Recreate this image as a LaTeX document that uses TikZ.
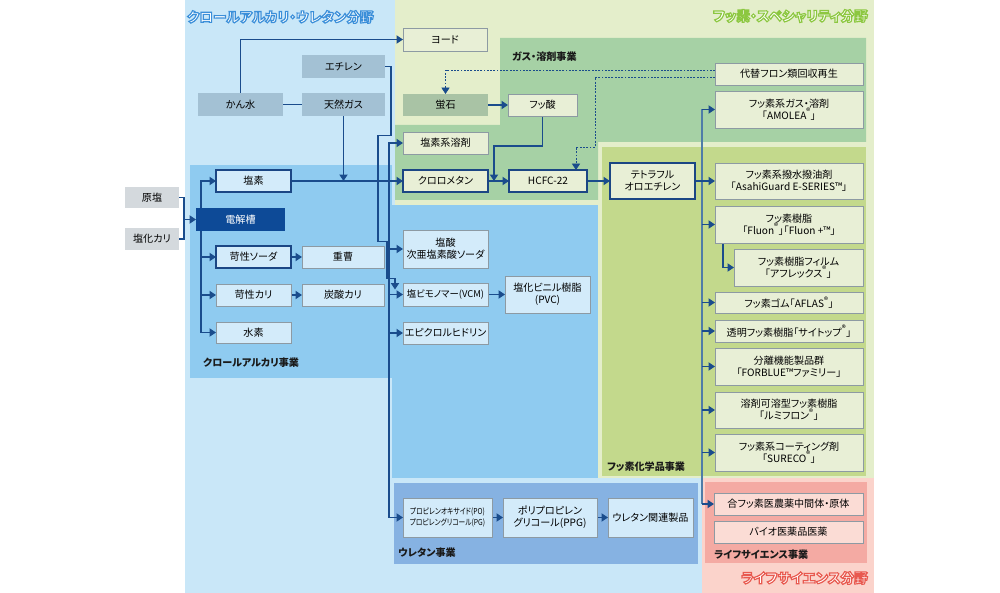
\documentclass[tikz,border=0pt]{standalone}
\usepackage{fontspec}
\setmainfont{Noto Sans CJK JP}[RawFeature=+palt]
\usetikzlibrary{arrows.meta,calc}
\pgfdeclarelayer{bg}\pgfdeclarelayer{edges}
\pgfsetlayers{bg,edges,main}
\definecolor{fBlue}{HTML}{C9E7F8}
\definecolor{bChlor}{HTML}{8FCBF0}
\definecolor{bUre}{HTML}{86B2E2}
\definecolor{fGreen}{HTML}{E4EECB}
\definecolor{bGas}{HTML}{A6D1A5}
\definecolor{bFluo}{HTML}{C3D98C}
\definecolor{fPink}{HTML}{FBD3CB}
\definecolor{bLife}{HTML}{F4AAA3}
\definecolor{gFill}{HTML}{A3C1D4}
\definecolor{sFill}{HTML}{D4D9DD}
\definecolor{eFill}{HTML}{0D4A97}
\definecolor{bFill}{HTML}{D3EBFA}
\definecolor{yFill}{HTML}{E8EFD6}
\definecolor{hFill}{HTML}{A9C3A5}
\definecolor{lFill}{HTML}{FBDCD5}
\definecolor{boxLine}{HTML}{8D9AA3}
\definecolor{keyLine}{HTML}{1B4684}
\definecolor{arrowC}{HTML}{1A4C8C}
\definecolor{vLine}{HTML}{4F7CA8}
\definecolor{labC}{HTML}{1A1A1A}
\newcommand\fs{\fontsize{8.6}{10.2}\selectfont}
\newcommand\regm{\textsuperscript{\fontsize{7}{7}\selectfont ®}}
\newcommand\outl[2]{\special{pdf:literal direct #1 RG 1.0 w 2 Tr}#2\special{pdf:literal direct 0 Tr}}
\newcommand\mk[7]{\node[#1, minimum width={(#5-#3)*0.03cm}, minimum height={(#6-#4)*0.03cm}] (#2) at ({(#3+#5)/2},{(#4+#6)/2}) {#7};}
\tikzset{
  base/.style={inner sep=0pt, outer sep=0pt, align=center, font=\fs, text=black},
  gbox/.style={base, fill=gFill},
  sbox/.style={base, fill=sFill},
  ebox/.style={base, fill=eFill, text=white},
  hbox/.style={base, fill=hFill},
  bbox/.style={base, fill=bFill, draw=boxLine, line width=0.6pt},
  ybox/.style={base, fill=yFill, draw=boxLine, line width=0.6pt},
  lbox/.style={base, fill=lFill, draw=boxLine, line width=0.6pt},
  kbox/.style={base, fill=#1, draw=keyLine, line width=1.6pt},
  smallfont/.style={font=\fontsize{7}{10}\selectfont},
  lab/.style={inner sep=0pt, anchor=west, text=labC, font=\fontsize{8.6}{10}\selectfont\bfseries},
  ttl/.style={inner sep=0pt, text=white, font=\fontsize{11.6}{12}\selectfont\bfseries},
  ln/.style={draw=arrowC, line width=1.1pt},
  ar/.style={ln, -{Triangle[length=5.5pt,width=7pt]}},
  dar/.style={draw=arrowC, line width=0.7pt, dash pattern=on 1.6pt off 1.2pt, -{Triangle[length=5.5pt,width=7pt]}},
  vl/.style={draw=vLine, line width=1pt}
}
\begin{document}
\begin{tikzpicture}[x=0.03cm,y=-0.03cm]
\useasboundingbox (0,0) rectangle (1000,593);
\begin{pgfonlayer}{bg}
\fill[white] (0,0) rectangle (1000,593);
\fill[fBlue] (185,0) rectangle (395,593);
\fill[fBlue] (395,478) rectangle (702,593);
\fill[fGreen] (395,0) rectangle (874,478);
\fill[fPink] (702,478) rectangle (874,593);
\fill[bChlor] (190,165) rectangle (392,378);
\fill[bChlor] (392,205) rectangle (598,478);
\fill[bUre] (394,483) rectangle (698,564);
\fill[bGas] (500,38) -- (866,38) -- (866,142) -- (598,142) -- (598,200) -- (395,200) -- (395,125) -- (500,125) -- cycle;
\fill[bFluo] (602,147) rectangle (866,476);
\fill[bLife] (705,482) rectangle (867,563);
\end{pgfonlayer}
% titles
\node[ttl, anchor=west] (tBlue) at (187,17) {\outl{0.23 0.56 0.85}{クロールアルカリ・ウレタン分野}};
\node[ttl, anchor=east] (tGreen) at (868,16) {\outl{0.55 0.78 0.25}{フッ素・スペシャリティ分野}};
\node[ttl, anchor=east] (tPink) at (868,578) {\outl{0.91 0.35 0.31}{ライフサイエンス分野}};
% labels
\node[lab] (lblChlor) at (203,363) {クロールアルカリ事業};
\node[lab] (lblGas) at (512,57) {ガス・溶剤事業};
\node[lab] (lblFluo) at (607,467) {フッ素化学品事業};
\node[lab] (lblUre) at (398,553) {ウレタン事業};
\node[lab] (lblLife) at (714,555) {ライフサイエンス事業};
% chlor-alkali
\mk{gbox}{ethylene}{302}{55}{385}{78}{エチレン}
\mk{gbox}{kansui}{198}{93}{283}{116}{かん水}
\mk{gbox}{tennen}{302}{93}{385}{116}{天然ガス}
\mk{sbox}{genen}{125}{187}{179}{208}{原塩}
\mk{sbox}{enkakari}{125}{228}{179}{250}{塩化カリ}
\mk{ebox}{denkai}{196}{208}{285}{231}{電解槽}
\mk{kbox=bFill}{enso}{216}{170}{291}{192}{塩素}
\mk{kbox=bFill}{soda}{216}{246}{291}{268}{苛性ソーダ}
\mk{bbox}{jusou}{302}{246}{384}{268}{重曹}
\mk{bbox}{kari}{216}{284}{291}{306}{苛性カリ}
\mk{bbox}{tansan}{302}{284}{384}{306}{炭酸カリ}
\mk{bbox}{suiso}{216}{322}{291}{343}{水素}
% vinyl
\mk{bbox}{jia}{403}{230}{488}{268}{塩酸\\次亜塩素酸ソーダ}
\mk{bbox, font=\fontsize{8}{9}\selectfont}{vcm}{403}{283}{488}{306}{塩ビモノマー(VCM)}
\mk{bbox}{pvc}{505}{276}{590}{313}{塩化ビニル樹脂\\(PVC)}
\mk{bbox}{epi}{403}{322}{488}{344}{エピクロルヒドリン}
% urethane
\mk{bbox, smallfont}{po}{403}{498}{492}{537}{\scalebox{0.82}[1]{プロピレンオキサイド(PO)}\\\scalebox{0.82}[1]{プロピレングリコール(PG)}}
\mk{bbox}{ppg}{503}{498}{597}{537}{ポリプロピレン\\グリコール(PPG)}
\mk{bbox}{uret}{608}{498}{693}{537}{ウレタン関連製品}
% gas / fluorine
\mk{ybox}{yodo}{403}{28}{487}{51}{ヨード}
\mk{hbox}{hotaru}{403}{94}{488}{116}{蛍石}
\mk{ybox}{fussan}{508}{94}{577}{116}{フッ酸}
\mk{ybox}{enkei}{403}{132}{488}{154}{塩素系溶剤}
\mk{kbox=yFill}{chloro}{403}{170}{488}{192}{クロロメタン}
\mk{kbox=yFill}{hcfc}{509}{170}{587}{192}{HCFC-22}
\mk{kbox=yFill}{tfe}{610}{163}{695}{199}{テトラフル\\オロエチレン}
\mk{ybox}{daitai}{715}{63}{863}{85}{代替フロン類回収再生}
\mk{ybox}{amolea}{715}{91}{863}{128}{フッ素系ガス・溶剤\\「AMOLEA\regm」}
\mk{ybox}{asahi}{715}{163}{863}{199}{フッ素系撥水撥油剤\\「AsahiGuard E-SERIES™」}
\mk{ybox}{fluon}{715}{206}{863}{243}{フッ素樹脂\\「Fluon\regm」「Fluon +™」}
\mk{ybox}{film}{734}{249}{863}{286}{フッ素樹脂フィルム\\「アフレックス\regm」}
\mk{ybox}{aflas}{715}{292}{863}{313}{フッ素ゴム「AFLAS\regm」}
\mk{ybox}{cytop}{715}{320}{863}{342}{透明フッ素樹脂「サイトップ\regm」}
\mk{ybox}{forblue}{715}{348}{863}{385}{分離機能製品群\\「FORBLUE™ファミリー」}
\mk{ybox}{lumi}{715}{392}{863}{428}{溶剤可溶型フッ素樹脂\\「ルミフロン\regm」}
\mk{ybox}{sureco}{715}{434}{863}{471}{フッ素系コーティング剤\\「SURECO\regm」}
\mk{lbox}{gan}{714}{493}{863}{515}{合フッ素医農薬中間体・原体}
\mk{lbox}{bio}{714}{521}{863}{543}{バイオ医薬品医薬}
% connectors
\begin{pgfonlayer}{edges}
\draw[ln] (kansui.east) -- (tennen.west);
\draw[ar] (kansui.north) |- (yodo.west);
\draw[ar] (tennen.south) -- (tennen.south |- enso.east);
\draw[ar] (ethylene.east) -- ++(6,0) -- ++(0,69) -- ++(-13,0) -- ++(0,106) -- ++(9,0) -- ++(0,37) -- ++(8,0) -- ($(vcm.west)+(-8,-5)$);
\draw[ar] (enso.east) -- (chloro.west);
\coordinate (cj) at ($(chloro.west)+(-14,0)$);
\draw[ar] (cj) |- (enkei.west);
\draw[ar] (cj) |- (po.west);
\draw[ar] (cj |- jia.west) -- (jia.west);
\draw[ar] (cj |- vcm.west) -- (vcm.west);
\draw[ar] (cj |- epi.west) -- (epi.west);
\coordinate (bk) at ($(denkai.west)+(-12,0)$);
\draw[ln] (genen.east) -| (bk) |- (enkakari.east);
\draw[ar] (bk) -- (denkai.west);
\coordinate (dv) at ($(denkai.west)+(5,0)$);
\draw[ar] (dv) |- (enso.west);
\draw[ar] (dv) |- (suiso.west);
\draw[ar] (dv |- soda.west) -- (soda.west);
\draw[ar] (dv |- kari.west) -- (kari.west);
\draw[ar] (soda.east) -- (jusou.west);
\draw[ar] (kari.east) -- (tansan.west);
\draw[ar] (hotaru.east) -- (fussan.west);
\coordinate (fj) at ($(chloro.east)+(6,0)$);
\draw[ar] (fussan.south) |- ($(fj)+(0,-35)$) -- (fj);
\draw[ar] (chloro.east) -- (hcfc.west);
\draw[ar] (hcfc.east) -- (tfe.west);
\draw[dar] ($(daitai.west)+(0,-4)$) -| (hotaru.north);
\draw[dar] ($(daitai.west)+(0,3)$) -| ($(hcfc.north)+(47,-23)$) -| ($(hcfc.north)+(28,0)$);
\coordinate (tv) at ($(tfe.east)+(7,0)$);
\draw[vl] (tv |- amolea.west) -- (tv |- gan.west);
\draw[ar] (tfe.east) -- (asahi.west);
\foreach \n in {amolea,fluon,aflas,cytop,forblue,lumi,sureco,gan}
  \draw[ar] (tv |- \n.west) -- (\n.west);
\draw[ar] ($(fluon.south west)+(8,0)$) |- (film.west);
\draw[ar] (vcm.east) -- (pvc.west);
\draw[ar] (po.east) -- (ppg.west);
\draw[ar] (ppg.east) -- (uret.west);
\end{pgfonlayer}
\end{tikzpicture}
\end{document}
